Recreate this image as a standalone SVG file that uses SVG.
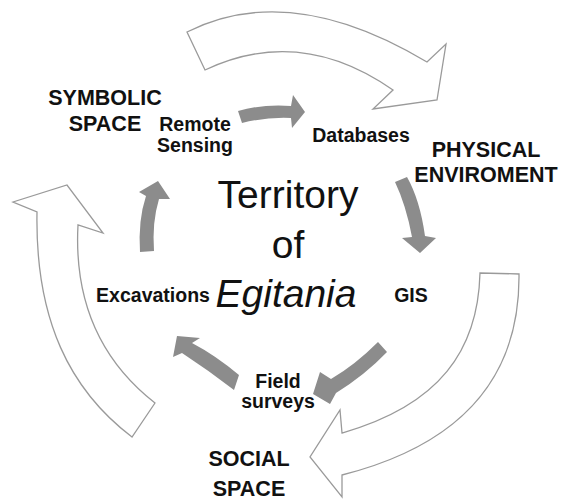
<svg xmlns="http://www.w3.org/2000/svg" width="563" height="500" viewBox="0 0 563 500">
<style>
.big{fill:#fff;stroke:#9a9a9a;stroke-width:1.3;stroke-linejoin:miter}
.gray{fill:#8c8c8c;stroke:none}
.lbl{font-family:"Liberation Sans",Arial,Helvetica,sans-serif;font-weight:bold;fill:#111;text-anchor:middle}
.sp{font-size:21.5px}
.md{font-size:19.5px}
.title{font-family:"Liberation Sans",Arial,Helvetica,sans-serif;font-size:39px;fill:#111;text-anchor:middle}
</style>
<rect width="563" height="500" fill="#fff"/>
<g id="connectors">
  <path class="big" d="M 187,32 Q 290,-20 427,62 L 446,44 L 437,100 L 373,109 L 393,90 Q 300,25 205,70 Z"/>
  <path class="big" d="M 480,273 L 519,274 C 520,360 480,440 342,475 L 342,497 L 310,457 L 340,410 L 342,433 C 440,405 478,350 480,273 Z"/>
  <path class="big" d="M 132,437 C 70,390 35,320 37,212 L 13,202 L 67,185 L 103,233 L 78,225 C 74,300 100,360 155,403 Z"/>
  <path class="gray" d="M 238,111 Q 262,104 291,106 L 293,95 L 305,112 L 292,128 L 291,118 Q 265,117 242,123 Z"/>
  <path class="gray" d="M 395,182 Q 406,205 412,237 L 402,238 L 420,253 L 436,238 L 425,236 Q 420,200 407,177 Z"/>
  <path class="gray" d="M 378,342 Q 355,365 331,379 L 320,372 L 313,394 L 330,404 L 336,393 Q 365,375 387,352 Z"/>
  <path class="gray" d="M 239,375 Q 215,355 192,343 L 200,338 L 177,336 L 173,357 L 182,353 Q 208,370 234,390 Z"/>
  <path class="gray" d="M 140,252 Q 138,220 146,196 L 139,192 L 158,181 L 170,199 L 159,199 Q 152,222 154,251 Z"/>
</g>
<g id="symbolic-space"><text class="lbl sp" x="105" y="105">SYMBOLIC</text><text class="lbl sp" x="105" y="131">SPACE</text></g>
<g id="physical-enviroment"><text class="lbl sp" x="486" y="157">PHYSICAL</text><text class="lbl sp" x="486" y="182">ENVIROMENT</text></g>
<g id="social-space"><text class="lbl sp" x="249" y="466">SOCIAL</text><text class="lbl sp" x="249" y="496">SPACE</text></g>
<g id="remote-sensing"><text class="lbl md" x="195" y="131">Remote</text><text class="lbl md" x="195" y="152">Sensing</text></g>
<g id="databases"><text class="lbl md" x="361" y="142">Databases</text></g>
<g id="gis"><text class="lbl md" x="411" y="302">GIS</text></g>
<g id="field-surveys"><text class="lbl md" x="278" y="388">Field</text><text class="lbl md" x="278" y="408">surveys</text></g>
<g id="excavations"><text class="lbl md" x="153" y="302">Excavations</text></g>
<g id="territory"><text class="title" x="288" y="208">Territory</text><text class="title" x="288" y="258">of</text><text class="title" x="286" y="307" font-style="italic">Egitania</text></g>
</svg>
